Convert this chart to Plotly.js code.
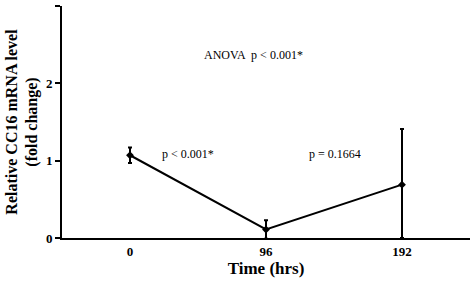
<!DOCTYPE html>
<html><head><meta charset="utf-8">
<script src="https://cdn.plot.ly/plotly-3.0.1.min.js"></script>
<style>html,body{margin:0;padding:0;background:#fff}#c{width:472px;height:282px}</style>
</head><body><div id="c"></div>
<script>
const timeLabels = ["0", "96", "192"];
const foldChange = [1.07, 0.11, 0.69];
const errPlus = [0.10, 0.12, 0.72];
const errMinus = [0.10, 0.12, 0.69];
const yTicks = [0, 1, 2, 3];

const font = "Times New Roman, Liberation Serif, serif";
Plotly.newPlot('c', [{
  x: timeLabels, y: foldChange, type: 'scatter', mode: 'lines+markers',
  line: {color: '#000', width: 2},
  marker: {symbol: 'diamond', size: 6, color: '#000'},
  error_y: {type: 'data', symmetric: false, array: errPlus, arrayminus: errMinus, color: '#000', thickness: 2, width: 2},
  showlegend: false
}], {
  width: 472, height: 282,
  margin: {l: 62, r: 2, t: 6, b: 44},
  paper_bgcolor: '#fff', plot_bgcolor: '#fff',
  font: {family: font, color: '#000'},
  xaxis: {type: 'category', range: [-0.5, 2.5], showgrid: false, zeroline: false,
    showline: true, linecolor: '#000', linewidth: 2, ticks: '',
    tickfont: {size: 13, weight: 'bold', family: font},
    title: {text: '<b>Time (hrs)</b>', font: {size: 17, family: font}, standoff: 2}},
  yaxis: {range: [0, 3], tickvals: yTicks, showgrid: false, zeroline: false,
    showline: true, linecolor: '#000', linewidth: 2, ticks: 'outside', ticklen: 5, tickwidth: 2, tickcolor: '#000',
    tickfont: {size: 13, weight: 'bold', family: font},
    title: {text: '<b>Relative CC16 mRNA level<br>(fold change)</b>', font: {size: 16, family: font}, standoff: 4}},
  annotations: [
    {xref: 'paper', yref: 'y', x: 0.47, y: 2.37, text: 'ANOVA  p < 0.001*', showarrow: false, font: {size: 12, family: font}},
    {xref: 'x', yref: 'y', x: 0.43, y: 1.08, text: 'p < 0.001*', showarrow: false, font: {size: 12, family: font}},
    {xref: 'x', yref: 'y', x: 1.51, y: 1.08, text: 'p = 0.1664', showarrow: false, font: {size: 12, family: font}}
  ]
}, {displayModeBar: false, staticPlot: true});
</script></body></html>
